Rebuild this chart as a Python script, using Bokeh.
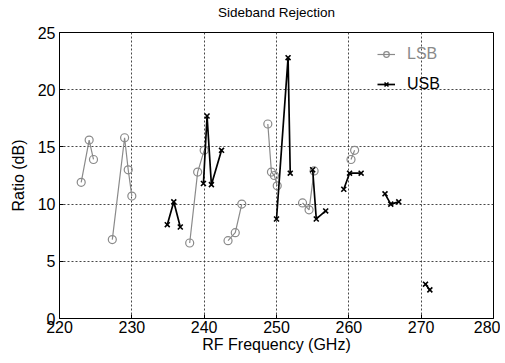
from bokeh.plotting import figure
from bokeh.models import Legend, LegendItem, FixedTicker, Range1d, Title
from bokeh.embed import file_html
from bokeh.resources import INLINE

nan = float("nan")

x_ticks = [220, 230, 240, 250, 260, 270, 280]
y_ticks = [0, 5, 10, 15, 20, 25]

lsb_freq = [223.0, 224.1, 224.7, nan, 227.3, 229.0, 229.5, 230.0, nan,
            238.0, 239.1, 240.0, nan, 243.3, 244.3, 245.2, nan,
            248.8, 249.3, 249.7, 250.1, nan, 253.6, 254.5, 255.2, nan,
            260.3, 260.8]
lsb_ratio = [11.9, 15.6, 13.9, nan, 6.9, 15.8, 13.0, 10.7, nan,
             6.6, 12.8, 14.7, nan, 6.8, 7.5, 10.0, nan,
             17.0, 12.8, 12.5, 11.6, nan, 10.1, 9.5, 12.9, nan,
             13.9, 14.7]

usb_freq = [234.9, 235.8, 236.7, nan, 239.9, 240.4, 241.0, 242.4, nan,
            250.0, 251.6, 251.9, nan, 255.0, 255.5, 256.8, nan,
            259.3, 260.1, 261.7, nan, 265.0, 265.8, 266.9, nan,
            270.6, 271.2]
usb_ratio = [8.2, 10.2, 8.0, nan, 11.8, 17.7, 11.7, 14.7, nan,
             8.7, 22.8, 12.7, nan, 13.0, 8.7, 9.4, nan,
             11.3, 12.7, 12.7, nan, 10.9, 10.0, 10.2, nan,
             3.0, 2.5]

FONT = "Liberation Sans"
GRAY = "#8a8a8a"

p = figure(width=500, height=362, output_backend="svg", toolbar_location=None,
           x_range=Range1d(220, 280), y_range=Range1d(0, 25),
           title="Sideband Rejection",
           min_border_left=59, min_border_right=7, min_border_top=32, min_border_bottom=44)

p.title.align = "center"
p.title.text_font = FONT
p.title.text_font_size = "13.5px"
p.title.text_font_style = "normal"
p.title.text_color = "black"
p.title.standoff = 0

# invisible spacer between the frame and the title
p.add_layout(Title(text=" ", text_font_size="1px", standoff=10), "above")

p.outline_line_color = "black"
p.outline_line_width = 1

for ax in (p.xaxis[0], p.yaxis[0]):
    ax.major_label_text_font = FONT
    ax.major_label_text_font_size = "16px"
    ax.major_label_text_color = "black"
    ax.axis_label_text_font = FONT
    ax.axis_label_text_font_size = "16px"
    ax.axis_label_text_font_style = "normal"
    ax.axis_label_text_color = "black"
    ax.major_tick_in = 4
    ax.major_tick_out = 0
    ax.minor_tick_line_color = None
    ax.axis_line_color = "black"
    ax.major_tick_line_color = "black"

p.xaxis[0].major_label_standoff = 2
p.xaxis[0].axis_label_standoff = 0
p.yaxis[0].major_label_standoff = 4
p.yaxis[0].axis_label_standoff = 8

p.xaxis[0].ticker = FixedTicker(ticks=x_ticks)
p.yaxis[0].ticker = FixedTicker(ticks=y_ticks)
p.xaxis[0].axis_label = "RF Frequency (GHz)"
p.yaxis[0].axis_label = "Ratio (dB)"

for g in (p.xgrid[0], p.ygrid[0]):
    g.grid_line_color = "#333333"
    g.grid_line_dash = "2 2"
    g.grid_line_width = 1
    g.grid_line_alpha = 0.9

l_line = p.line(lsb_freq, lsb_ratio, line_color=GRAY, line_width=1.2)
l_mark = p.scatter(lsb_freq, lsb_ratio, marker="circle", size=8,
                   fill_color=None, line_color=GRAY, line_width=1.2)
u_line = p.line(usb_freq, usb_ratio, line_color="black", line_width=1.7)
u_mark = p.scatter(usb_freq, usb_ratio, marker="x", size=7,
                   line_color="black", line_width=1.6)

def make_legend(label, renderers, color, loc):
    lg = Legend(items=[LegendItem(label=label, renderers=renderers)],
                location=loc, background_fill_alpha=0, border_line_color=None,
                label_text_font=FONT, label_text_font_size="16px",
                label_text_color=color, glyph_width=18, glyph_height=14,
                label_height=20, padding=0, margin=0, label_standoff=12)
    p.add_layout(lg)

make_legend("LSB", [l_line, l_mark], GRAY, (318, 254))
make_legend("USB", [u_line, u_mark], "black", (318, 224))

open("out.html", "w").write(file_html(p, INLINE))
